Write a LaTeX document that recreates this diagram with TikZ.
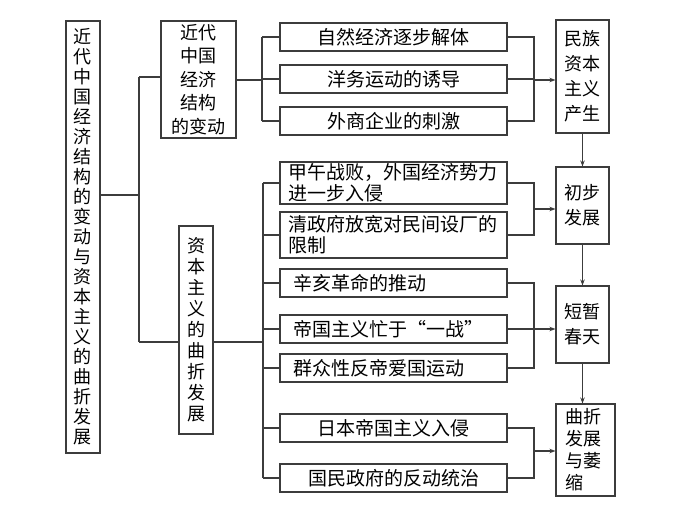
\documentclass[tikz,border=0pt]{standalone}
\usepackage{fontspec}
\setmainfont{Noto Sans CJK SC}
\usetikzlibrary{arrows.meta}
\definecolor{linegray}{HTML}{3C3C3C}
\tikzset{
  boxline/.style={draw=linegray, line width=1.1pt, inner sep=0pt, align=center},
  rowbox/.style={boxline, minimum width=227pt, minimum height=28pt, font=\fontsize{19}{21}\selectfont},
  rowleft/.style={rowbox, text width=#1, align=left},
  colbox/.style={boxline, font=\fontsize{18}{21}\selectfont},
  stagebox/.style={boxline, minimum width=53pt, font=\fontsize{18}{25}\selectfont},
  wire/.style={draw=linegray, line width=1.1pt},
  arr/.style={wire, -{Stealth[length=6pt,width=4.5pt]}}
}
\begin{document}
\begin{tikzpicture}[x=1pt,y=-1pt]
\useasboundingbox (0,0) rectangle (673,521);

% left column
\node[colbox, minimum width=34pt, minimum height=432pt, font=\fontsize{18}{20}\selectfont] (main) at (83,237)
  {近\\代\\中\\国\\经\\济\\结\\构\\的\\变\\动\\与\\资\\本\\主\\义\\的\\曲\\折\\发\\展};
\node[colbox, minimum width=75pt, minimum height=117pt, font=\fontsize{18}{23.5}\selectfont] (econ) at (198.5,79.5)
  {近代\\中国\\经济\\结构\\的变动};
\node[colbox, minimum width=34pt, minimum height=208pt] (rise) at (196,330)
  {资\\本\\主\\义\\的\\曲\\折\\发\\展};

% causes
\node[rowbox] (r1) at (393.5,37) {自然经济逐步解体};
\node[rowbox] (r2) at (393.5,79) {洋务运动的诱导};
\node[rowbox] (r3) at (393.5,121) {外商企业的刺激};
\node[rowleft=211pt, minimum height=42pt] (r4) at (393.5,183) {甲午战败，外国经济势力\\进一步入侵};
\node[rowleft=211pt, minimum height=46pt] (r5) at (393.5,235) {清政府放宽对民间设厂的\\限制};
\node[rowleft=201pt] (r6) at (393.5,283) {辛亥革命的推动};
\node[rowleft=201pt] (r7) at (393.5,329) {帝国主义忙于“一战”};
\node[rowleft=201pt] (r8) at (393.5,368) {群众性反帝爱国运动};
\node[rowbox] (r9) at (393.5,428) {日本帝国主义入侵};
\node[rowbox] (r10) at (393.5,478) {国民政府的反动统治};

% stages
\node[stagebox, minimum height=113pt] (s1) at (582.5,76.5) {民族\\资本\\主义\\产生};
\node[stagebox, minimum height=77pt] (s2) at (582.5,205.5) {初步\\发展};
\node[stagebox, minimum height=77pt] (s3) at (582.5,324.5) {短暂\\春天};
\node[stagebox, minimum width=59pt, minimum height=92pt, text width=40pt, align=left,
  font=\fontsize{18}{22}\selectfont] (s4) at (585.5,450) {曲折\\发展\\与萎\\缩};

% junctions
\coordinate (j0) at (139,195);
\coordinate (j1) at (139,77);
\coordinate (j2) at (139,342);
\coordinate (b1) at (262,80);
\coordinate (b2) at (263,342);
\coordinate (c1) at (534,80);
\coordinate (c2) at (534,209);
\coordinate (c3) at (534,329);
\coordinate (c4) at (534,451);

% left tree
\draw[wire] (main.east |- j0) -- (j0);
\draw[wire] (j1) -- (j2);
\draw[wire] (j1) -- (j1 -| econ.west);
\draw[wire] (j2) -- (j2 -| rise.west);

\draw[wire] (econ.east |- b1) -- (b1);
\draw[wire] (b1 |- r1.west) -- (b1 |- r3.west);
\foreach \n in {1,2,3}
  \draw[wire] (b1 |- r\n.west) -- (r\n.west);

\draw[wire] (rise.east |- b2) -- (b2);
\draw[wire] (b2 |- r4.west) -- (b2 |- r10.west);
\foreach \n in {4,...,10}
  \draw[wire] (b2 |- r\n.west) -- (r\n.west);

% right brackets
\draw[wire] (r1.east) -| (c1) |- (r3.east);
\draw[wire] (r2.east) -- (c1 |- r2.east);
\draw[wire] (r4.east) -| (c2) |- (r5.east);
\draw[wire] (r6.east) -| (c3) |- (r8.east);
\draw[wire] (r7.east) -- (c3 |- r7.east);
\draw[wire] (r9.east) -| (c4) |- (r10.east);

\draw[arr] (c1) -- (c1 -| s1.west);
\draw[arr] (c2) -- (c2 -| s2.west);
\draw[arr] (c3) -- (c3 -| s3.west);
\draw[arr] (c4) -- (c4 -| s4.west);

% stage arrows
\draw[arr] (s1.south) -- (s2.north);
\draw[arr] (s2.south) -- (s3.north);
\draw[arr] (s3.south) -- (s3.south |- s4.north);
\end{tikzpicture}
\end{document}
